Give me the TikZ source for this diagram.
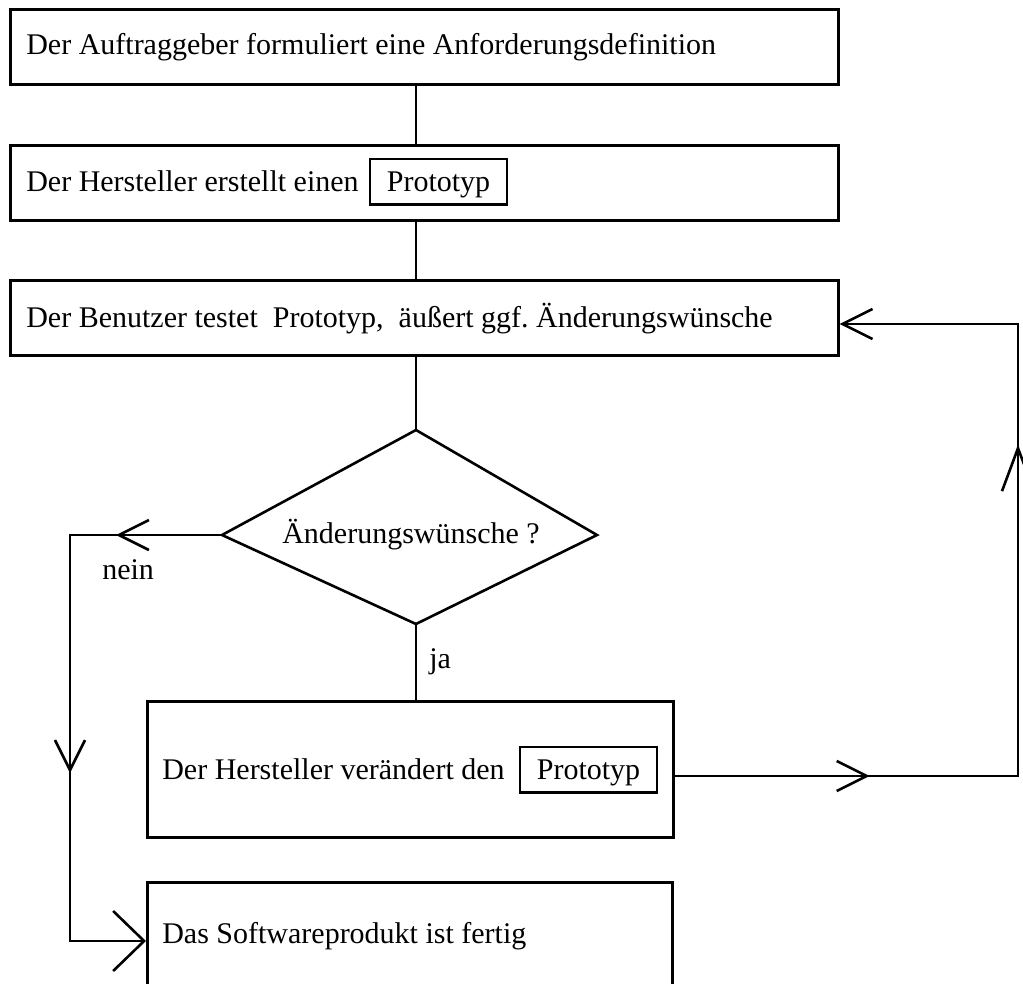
\documentclass[tikz,border=0pt]{standalone}
\usepackage{fontspec}
\setmainfont{Liberation Serif}
\usetikzlibrary{arrows.meta,decorations.markings}
\frenchspacing
\begin{document}
\begin{tikzpicture}[x=1pt,y=-1pt,
  line width=2.6pt,
  txt/.style={font=\fontsize{30}{36}\selectfont, inner sep=0pt, anchor=base west},
  box/.style={draw, rectangle, inner sep=0pt, anchor=north west},
  inbox/.style={draw, rectangle, line width=2.4pt, font=\fontsize{30}{36}\selectfont,
    inner sep=0pt, minimum width=137pt, text height=32pt, text depth=13.5pt, anchor=base},
  barb/.tip={Straight Barb[length=30pt,width=30pt]},
  widebarb/.tip={Straight Barb[length=31pt,width=60pt]},
  longbarb/.tip={Straight Barb[length=43pt,width=32pt]},
]
\useasboundingbox (0,0) rectangle (1023,983);
\clip (0,0) rectangle (1023,983);

% process boxes
\node[box, minimum width=828pt, minimum height=75pt] (b1) at (9,8) {};
\node[box, minimum width=828pt, minimum height=75pt] (b2) at (9,144) {};
\node[box, minimum width=828pt, minimum height=75pt] (b3) at (9,279) {};
\node[box, minimum width=526pt, minimum height=136pt] (b4) at (146,700) {};
\node[box, minimum width=525pt, minimum height=140pt] (b5) at (146,881) {};

% box texts
\node[txt] (t1) at (25,54) {Der Auftraggeber formuliert eine Anforderungsdefinition};
\node[txt] (t2) at (25,191) {Der Hersteller erstellt einen};
\node[inbox] (p2) at (438.5,191) {Prototyp};
\node[txt] (t3) at (25,327) {Der Benutzer testet\ \ Prototyp,\ \ äußert ggf. Änderungswünsche};
\node[txt] (t4) at (161,779) {Der Hersteller verändert den};
\node[inbox] (p4) at (588.5,779) {Prototyp};
\node[txt] (t5) at (161,943) {Das Softwareprodukt ist fertig};

% decision
\coordinate (dtop) at (416,430);
\coordinate (dleft) at (222,535);
\coordinate (dright) at (597,535);
\coordinate (dbot) at (416,624);
\draw (dtop) -- (dright) -- (dbot) -- (dleft) -- cycle;
\node[txt] (q) at (281,543) {Änderungswünsche ?};

% straight connectors
\draw (b1.south -| dtop) -- (b2.north -| dtop);
\draw (b2.south -| dtop) -- (b3.north -| dtop);
\draw (b3.south -| dtop) -- (dtop);
\draw (dbot) -- (b4.north -| dbot);
\node[txt] (ja) at (428,668) {ja};

% "nein" branch
\coordinate (nl) at (70,535);
\coordinate (nb) at (70,941);
\draw[-{widebarb},
  postaction={decorate},
  decoration={markings,
    mark=at position 106pt with {\arrow{barb}},
    mark=at position 390pt with {\arrow{barb}}}]
  (dleft) -- (nl) -- (nb) -- (nb -| b5.west);
\node[txt] (nein) at (101,579) {nein};

% loop back to testing
\coordinate (lr) at (1018,776);
\coordinate (lt) at (1018,324);
\draw[-{barb},
  postaction={decorate},
  decoration={markings,
    mark=at position 195pt with {\arrow{barb}},
    mark=at position 675pt with {\arrow{longbarb}}}]
  (lr -| b4.east) -- (lr) -- (lt) -- (lt -| b3.east);
\end{tikzpicture}
\end{document}
